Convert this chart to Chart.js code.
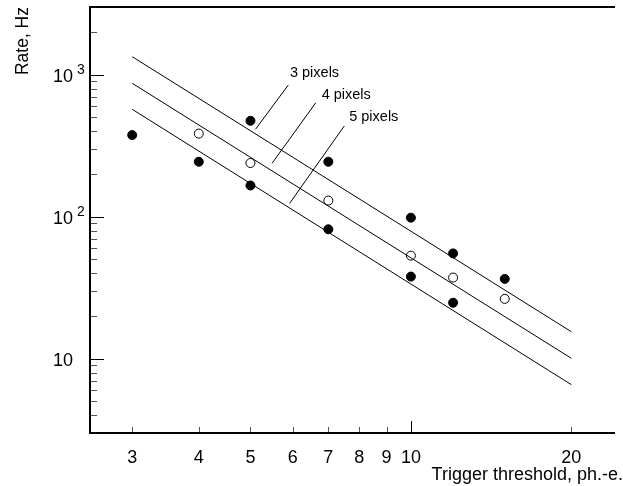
<!DOCTYPE html>
<html>
<head>
<meta charset="utf-8">
<script src="https://cdn.jsdelivr.net/npm/chart.js@4.4.0/dist/chart.umd.min.js"></script>
<style>
    html, body { margin: 0; padding: 0; overflow: hidden; background: #fff; }
    canvas { display: block; }
</style>
</head>
<body>
<canvas id="rateChart" width="623" height="486"></canvas>
<script>
// measured points, [threshold, rate]
const pts3 = [[5, 474], [7, 244], [10, 98.5], [12, 55.2], [15, 36.5]];
const pts4 = [[4, 385], [5, 239], [7, 130], [10, 53.2], [12, 37.3], [15, 26.4]];
const pts5 = [[3, 376], [4, 244], [5, 166], [7, 81.6], [10, 37.9], [12, 24.8]];

// fitted lines, end points at x = 3 and x = 20
const fitX = [3, 20];
const fit3 = [1340, 15.5];
const fit4 = [871, 10.07];
const fit5 = [571, 6.57];

// leader lines for the line labels
const leader3 = [[5.89, 848], [5.11, 413]];
const leader4 = [[6.63, 635], [5.49, 238]];
const leader5 = [[7.5, 436], [5.92, 124]];
const lineLabels = ['3 pixels', '4 pixels', '5 pixels'];
const lineLabelPos = [[5.93, 1034], [6.80, 724], [7.66, 502]];

// axes
const xTicks = [3, 4, 5, 6, 7, 8, 9, 10, 20];
const xTickLabels = ['3', '4', '5', '6', '7', '8', '9', '10', '20'];
const xMajor = [10];
const yMajor = [10, 100, 1000];
const yBase = ['10', '10', '10'];
const yExp = ['', '2', '3'];
const xTitle = 'Trigger threshold, ph.-e.';
const yTitle = 'Rate, Hz';

const FONT = '"Liberation Sans", Arial, sans-serif';

function toXY(arr) {
    return arr.map(p => ({x: p[0], y: p[1]}));
}

function fitLine(ys) {
    return fitX.map((x, i) => ({x: x, y: ys[i]}));
}

function lineSet(data) {
    return {
        data: data,
        showLine: true,
        borderColor: '#000',
        borderWidth: 1,
        pointRadius: 0,
        fill: false
    };
}

function dotSet(arr, open) {
    return {
        data: toXY(arr),
        showLine: false,
        pointRadius: 4.5,
        pointHoverRadius: 4.5,
        pointBorderWidth: 1,
        pointBorderColor: '#000',
        pointBackgroundColor: open ? '#fff' : '#000'
    };
}

function segment(ctx, x1, y1, x2, y2) {
    ctx.beginPath();
    ctx.moveTo(x1, y1);
    ctx.lineTo(x2, y2);
    ctx.stroke();
}

// 坐标轴、刻度和文字都自己画
const framePlugin = {
    id: 'frame',
    afterDatasetsDraw(chart) {
        const ctx = chart.ctx;
        const a = chart.chartArea;
        const xs = chart.scales.x;
        const ys = chart.scales.y;
        const w = chart.width;
        ctx.save();

        // minor y ticks
        ctx.strokeStyle = '#555';
        ctx.lineWidth = 1;
        for (let d = 1; d <= 1000; d *= 10) {
            for (let m = 2; m <= 9; m++) {
                const v = m * d;
                if (v <= ys.min || v >= ys.max) continue;
                const py = Math.round(ys.getPixelForValue(v)) + 0.5;
                segment(ctx, a.left, py, a.left + 7, py);
            }
        }
        // major y ticks
        ctx.strokeStyle = '#000';
        yMajor.forEach(v => {
            const py = Math.round(ys.getPixelForValue(v)) + 0.5;
            segment(ctx, a.left, py, a.left + 14, py);
        });
        // x ticks
        xTicks.forEach(v => {
            const px = Math.round(xs.getPixelForValue(v)) + 0.5;
            const len = xMajor.includes(v) ? 12 : 6;
            ctx.strokeStyle = xMajor.includes(v) ? '#000' : '#555';
            segment(ctx, px, a.bottom, px, a.bottom - len);
        });

        // frame: top, left, bottom
        ctx.strokeStyle = '#000';
        ctx.lineWidth = 2;
        segment(ctx, a.left - 1, a.top, w - 8, a.top);
        segment(ctx, a.left, a.top, a.left, a.bottom + 1);
        segment(ctx, a.left - 1, a.bottom, w - 8, a.bottom);

        ctx.fillStyle = '#000';
        ctx.textBaseline = 'alphabetic';
        // x tick labels
        ctx.font = '18px ' + FONT;
        ctx.textAlign = 'center';
        xTicks.forEach((v, i) => {
            ctx.fillText(xTickLabels[i], xs.getPixelForValue(v), a.bottom + 30);
        });
        // y tick labels
        yMajor.forEach((v, i) => {
            const py = ys.getPixelForValue(v);
            ctx.font = '18px ' + FONT;
            ctx.textAlign = 'left';
            ctx.fillText(yBase[i], 53, py + 7.5);
            if (yExp[i]) {
                const tw = ctx.measureText(yBase[i]).width;
                ctx.font = '14px ' + FONT;
                ctx.fillText(yExp[i], 53 + tw + 4, py - 1);
            }
        });

        // axis titles
        ctx.font = '18px ' + FONT;
        ctx.textAlign = 'right';
        ctx.fillText(xTitle, w, a.bottom + 47);
        ctx.save();
        ctx.translate(28, 7);
        ctx.rotate(-Math.PI / 2);
        ctx.font = '17.5px ' + FONT;
        ctx.textAlign = 'right';
        ctx.fillText(yTitle, 0, 0);
        ctx.restore();

        // line labels
        ctx.font = '14.5px ' + FONT;
        ctx.textAlign = 'left';
        ctx.textBaseline = 'middle';
        lineLabels.forEach((t, i) => {
            const p = lineLabelPos[i];
            ctx.fillText(t, xs.getPixelForValue(p[0]), ys.getPixelForValue(p[1]));
        });
        ctx.restore();
    }
};

new Chart(document.getElementById('rateChart').getContext('2d'), {
    type: 'scatter',
    data: {
        datasets: [
            lineSet(fitLine(fit3)),
            lineSet(fitLine(fit4)),
            lineSet(fitLine(fit5)),
            lineSet(toXY(leader3)),
            lineSet(toXY(leader4)),
            lineSet(toXY(leader5)),
            dotSet(pts3, false),
            dotSet(pts4, true),
            dotSet(pts5, false)
        ]
    },
    options: {
        responsive: false,
        animation: false,
        devicePixelRatio: 1,
        layout: {
            autoPadding: false,
            padding: {left: 90, top: 7, right: 0, bottom: 53}
        },
        scales: {
            x: {type: 'logarithmic', min: 2.5, max: 25, display: false},
            y: {type: 'logarithmic', min: 3, max: 3000, display: false}
        },
        plugins: {
            legend: {display: false},
            tooltip: {enabled: false}
        }
    },
    plugins: [framePlugin]
});
</script>
</body>
</html>
